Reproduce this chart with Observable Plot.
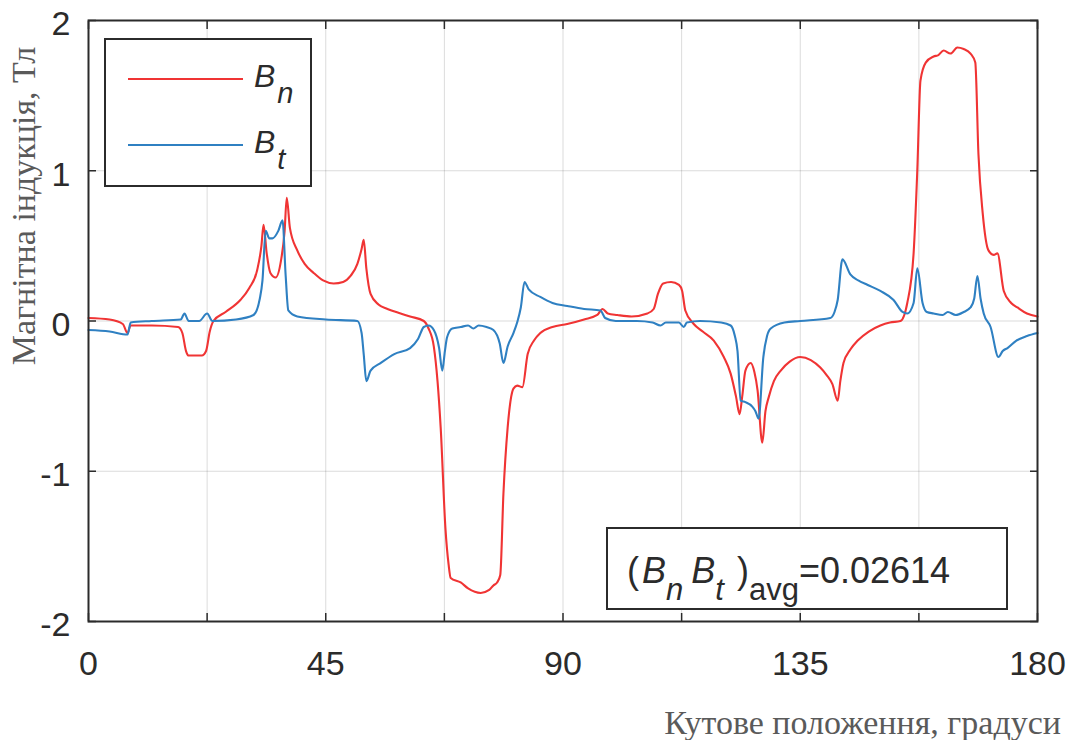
<!DOCTYPE html>
<html>
<head>
<meta charset="utf-8">
<script src="https://cdn.jsdelivr.net/npm/d3@7"></script>
<script src="https://cdn.jsdelivr.net/npm/@observablehq/plot@0.6"></script>
<style>
  html, body { margin: 0; padding: 0; background: #fff; }
  #chart { width: 1078px; height: 740px; }
</style>
</head>
<body>
<div id="chart"></div>
<script>
// ---- data ----
const xTicks = [0, 22.5, 45, 67.5, 90, 112.5, 135, 157.5, 180];
const xTickLabels = [0, 45, 90, 135, 180];
const yTicks = [-2, -1, 0, 1, 2];
const seriesNames = ["Bn", "Bt"];
const annotationValue = "0.02614";
const xLabel = "Кутове положення, градуси";
const yLabel = "Магнітна індукція, Тл";

const bnAngle = [0,4,6.5,7.4,8,12,17,17.8,18.5,19,21.5,22.3,23,23.7,26,28.8,30.5,32,32.8,33.2,33.8,34.5,35.5,36.5,37.2,37.6,38.2,39.6,41,42.7,44.5,46.5,48.3,49.7,51,51.8,52.2,52.7,53.5,55,56.7,59.2,61,63.6,64.5,65.5,66.2,66.8,67.7,68.3,68.7,70.6,72,74.4,76,76.8,77.5,78.1,78.7,79.5,80.6,81.3,82.3,83.3,84.5,85.7,88,90.8,94,96.5,97.5,98.5,100.3,103,106,107.2,108,109,110.5,112,112.6,113.2,114.8,116.5,118.6,120.5,121.8,122.8,123.5,124,124.6,125.6,126.3,126.9,127.8,128.4,129,130,131.3,133,135,137,138.8,140,141.1,142.1,142.6,143.2,144.5,145.9,148,150.2,152,154,155.3,156.5,157.2,157.8,158.8,160.3,161.2,162.2,163.5,164.8,166,167.3,168.2,168.8,169.6,170.7,171.7,172.4,173.6,175,176.2,178,180];
const bnValue = [0.02,0.01,-0.02,-0.08,-0.03,-0.03,-0.04,-0.08,-0.2,-0.23,-0.23,-0.2,-0.07,0.0,0.06,0.14,0.22,0.34,0.5,0.64,0.45,0.32,0.29,0.4,0.6,0.82,0.62,0.47,0.38,0.32,0.27,0.25,0.26,0.3,0.38,0.48,0.54,0.35,0.18,0.11,0.08,0.05,0.03,0.0,-0.05,-0.17,-0.4,-0.71,-1.38,-1.62,-1.71,-1.74,-1.78,-1.81,-1.79,-1.76,-1.74,-1.69,-1.15,-0.71,-0.45,-0.43,-0.44,-0.22,-0.13,-0.08,-0.04,-0.02,0.01,0.04,0.08,0.05,0.04,0.03,0.05,0.08,0.18,0.25,0.26,0.24,0.2,0.07,-0.02,-0.07,-0.13,-0.24,-0.35,-0.5,-0.62,-0.5,-0.33,-0.28,-0.34,-0.46,-0.81,-0.6,-0.51,-0.4,-0.33,-0.27,-0.24,-0.26,-0.31,-0.36,-0.42,-0.53,-0.4,-0.28,-0.19,-0.13,-0.07,-0.03,-0.01,0.0,0.12,0.45,1.0,1.6,1.72,1.76,1.77,1.8,1.78,1.82,1.81,1.78,1.72,1.11,0.72,0.47,0.44,0.45,0.2,0.12,0.09,0.05,0.03];

const btAngle = [0,4,7.4,8,12,17.5,18.2,19,21,22.5,23.5,28,31.3,32.5,33,33.6,34.3,34.9,36,36.8,37.4,37.9,39.6,45,51,51.8,52.2,52.7,53.5,55.4,58,61,62.5,63.6,64.5,65.5,66.5,67.1,67.6,68,69,70.6,72,73,74,75.5,76.8,78,78.7,79.5,80.6,81.3,82,82.7,83.5,85.7,88,90.8,94,97.1,98,100,104,107,108.5,109.5,112,112.9,113.5,116,120,121.8,122.6,123.1,123.7,124.6,125.9,126.5,127.1,128,128.7,129.4,132,135,140.7,141.5,142.1,143,144.5,146,147.8,150.2,152.7,154.4,155.3,156.5,157.2,158.2,159,160.3,162,163,164.5,166,167.3,168,168.6,169.2,169.8,171.1,172.6,173.4,174.3,176,178,180];
const btValue = [-0.06,-0.07,-0.09,-0.01,0.0,0.01,0.05,0.0,0.0,0.05,0.0,0.01,0.04,0.15,0.27,0.6,0.55,0.55,0.6,0.67,0.3,0.07,0.03,0.01,0.0,-0.08,-0.22,-0.4,-0.33,-0.28,-0.22,-0.18,-0.12,-0.04,-0.03,-0.06,-0.18,-0.33,-0.2,-0.11,-0.05,-0.04,-0.03,-0.05,-0.03,-0.04,-0.06,-0.15,-0.28,-0.17,-0.08,-0.01,0.09,0.26,0.21,0.16,0.12,0.1,0.08,0.07,0.02,0.0,0.0,-0.01,-0.03,-0.01,-0.01,-0.04,-0.01,0.0,-0.01,-0.03,-0.1,-0.2,-0.53,-0.54,-0.57,-0.6,-0.65,-0.24,-0.1,-0.05,-0.01,0.0,0.02,0.06,0.14,0.41,0.31,0.27,0.24,0.2,0.14,0.06,0.05,0.12,0.35,0.12,0.06,0.05,0.04,0.06,0.04,0.06,0.09,0.15,0.3,0.15,0.05,-0.04,-0.24,-0.2,-0.18,-0.13,-0.1,-0.08];

// ---- build tables ----
const bn = bnAngle.map((a, i) => ({angle: a, value: bnValue[i]}));
const bt = btAngle.map((a, i) => ({angle: a, value: btValue[i]}));

const RED = "#f03434";
const BLUE = "#2f80c2";
const INK = "#2b2b2b";
const FONT = "'Liberation Sans', Arial, Helvetica, sans-serif";
const SERIF = "'Liberation Serif', 'Times New Roman', serif";

const W = 1078, H = 740;
const mL = 88, mR = 41, mT = 20, mB = 119;

const chart = Plot.plot({
  width: W,
  height: H,
  marginLeft: mL,
  marginRight: mR,
  marginTop: mT,
  marginBottom: mB,
  style: {fontFamily: FONT, fontSize: "34px", color: INK, background: "#fff", overflow: "visible"},
  x: {domain: [0, 180]},
  y: {domain: [-2, 2]},
  marks: [
    Plot.gridX(xTicks, {stroke: "#000", strokeOpacity: 0.14, strokeWidth: 1}),
    Plot.gridY(yTicks, {stroke: "#000", strokeOpacity: 0.14, strokeWidth: 1}),
    Plot.line(bn, {x: "angle", y: "value", stroke: RED, strokeWidth: 2.1, curve: "monotone-x"}),
    Plot.line(bt, {x: "angle", y: "value", stroke: BLUE, strokeWidth: 2.1, curve: "monotone-x"}),
    Plot.frame({stroke: INK, strokeWidth: 2}),
    Plot.axisX(xTicks, {anchor: "bottom", tickSize: -8, tickFormat: () => "", stroke: INK, strokeWidth: 1.5, label: null}),
    Plot.axisX(xTicks, {anchor: "top", tickSize: -8, tickFormat: () => "", stroke: INK, strokeWidth: 1.5, label: null}),
    Plot.axisX(xTickLabels, {anchor: "bottom", tickSize: 0, tickPadding: 29, tickFormat: d => String(d), fill: INK, label: null}),
    Plot.axisY(yTicks, {anchor: "left", tickSize: -8, tickFormat: () => "", stroke: INK, strokeWidth: 1.5, label: null}),
    Plot.axisY(yTicks, {anchor: "right", tickSize: -8, tickFormat: () => "", stroke: INK, strokeWidth: 1.5, label: null}),
    Plot.axisY(yTicks, {anchor: "left", tickSize: 0, tickPadding: 18, dy: 4, tickFormat: d => String(d), fill: INK, label: null})
  ]
});

document.getElementById("chart").appendChild(chart);

// ---- overlay: legend, annotation, axis titles ----
const svg = d3.select(chart);
const sx = chart.scale("x"), sy = chart.scale("y");
const pLeft = sx.apply(0), pTop = sy.apply(2);

// legend
const lg = svg.append("g").attr("font-family", FONT).attr("fill", INK).attr("text-anchor", "start");
const lx = pLeft + 17, ly = pTop + 19, lw = 206, lh = 147;
lg.append("rect").attr("x", lx).attr("y", ly).attr("width", lw).attr("height", lh)
  .attr("fill", "#fff").attr("stroke", INK).attr("stroke-width", 2);
const legendItems = [
  {name: seriesNames[0], color: RED, sub: "n"},
  {name: seriesNames[1], color: BLUE, sub: "t"}
];
legendItems.forEach((it, i) => {
  const yy = ly + 40 + i * 66;
  lg.append("line").attr("x1", lx + 23).attr("x2", lx + 138).attr("y1", yy).attr("y2", yy)
    .attr("stroke", it.color).attr("stroke-width", 2.1);
  const t = lg.append("text").attr("x", lx + 149).attr("y", yy + 8).attr("font-size", 32).attr("font-style", "italic");
  t.append("tspan").text("B");
  t.append("tspan").attr("dy", 16).attr("dx", 2).attr("font-size", 29).text(it.sub);
});

// annotation box
const ag = svg.append("g").attr("font-family", FONT).attr("fill", INK).attr("text-anchor", "start");
const bx = pLeft + 519, by = pTop + 508, bw = 400, bh = 81;
ag.append("rect").attr("x", bx).attr("y", by).attr("width", bw).attr("height", bh)
  .attr("fill", "#fff").attr("stroke", INK).attr("stroke-width", 2);
const at = ag.append("text").attr("x", bx + 20).attr("y", by + 55).attr("font-size", 36);
at.append("tspan").text("(");
at.append("tspan").attr("font-style", "italic").attr("dx", 3).text("B");
at.append("tspan").attr("font-style", "italic").attr("font-size", 31).attr("dy", 17).text("n");
at.append("tspan").attr("font-style", "italic").attr("dy", -17).attr("dx", 8).text("B");
at.append("tspan").attr("font-style", "italic").attr("font-size", 31).attr("dy", 17).text("t");
at.append("tspan").attr("dy", -17).attr("dx", 3).text("\u00a0)");
at.append("tspan").attr("font-size", 31).attr("dy", 17).text("avg");
at.append("tspan").attr("dy", -17).text("=" + annotationValue);

// axis titles (serif, grey)
svg.append("text")
  .attr("x", 1061).attr("y", 734)
  .attr("text-anchor", "end")
  .attr("font-family", SERIF)
  .attr("font-size", 34)
  .attr("fill", "#5a5a5a")
  .text(xLabel);

svg.append("text")
  .attr("transform", "translate(35,206) rotate(-90)")
  .attr("text-anchor", "middle")
  .attr("font-family", SERIF)
  .attr("font-size", 34)
  .attr("fill", "#5a5a5a")
  .text(yLabel);
</script>
</body>
</html>
